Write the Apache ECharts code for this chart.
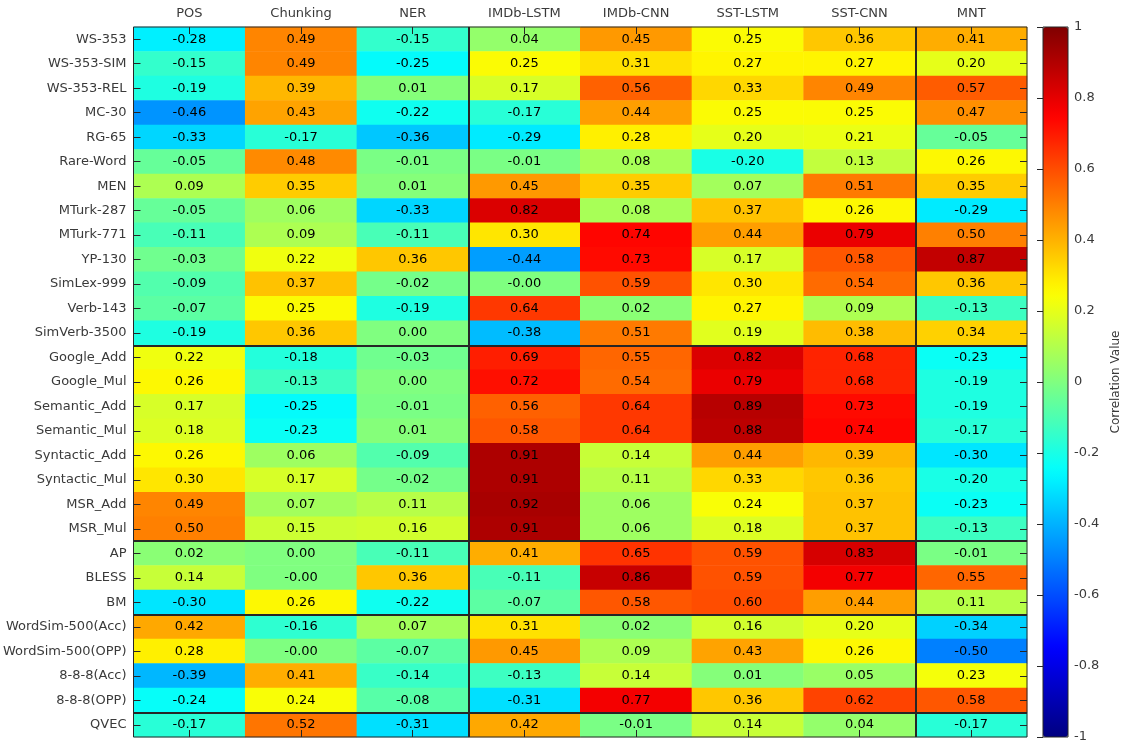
<!DOCTYPE html>
<html>
<head>
<meta charset="utf-8">
<script src="https://cdn.jsdelivr.net/npm/echarts@6/dist/echarts.min.js"></script>
<style>
  html, body { margin: 0; padding: 0; background: #fff; }
  #chart { width: 1123px; height: 749px; }
</style>
</head>
<body>
<div id="chart"></div>
<script>
// tasks (columns) and evaluation sets (rows)
const colLabels = ["POS", "Chunking", "NER", "IMDb-LSTM", "IMDb-CNN", "SST-LSTM", "SST-CNN", "MNT"]
const rowLabels = [
  "WS-353", "WS-353-SIM", "WS-353-REL", "MC-30", "RG-65", "Rare-Word", "MEN",
  "MTurk-287", "MTurk-771", "YP-130", "SimLex-999", "Verb-143", "SimVerb-3500",
  "Google_Add", "Google_Mul", "Semantic_Add", "Semantic_Mul", "Syntactic_Add",
  "Syntactic_Mul", "MSR_Add", "MSR_Mul", "AP", "BLESS", "BM",
  "WordSim-500(Acc)", "WordSim-500(OPP)", "8-8-8(Acc)", "8-8-8(OPP)", "QVEC"
]

// one array per column, in row order (-0.001 prints as "-0.00")
const pos      = [-0.28, -0.15, -0.19, -0.46, -0.33, -0.05, 0.09, -0.05, -0.11, -0.03, -0.09, -0.07, -0.19, 0.22, 0.26, 0.17, 0.18, 0.26, 0.30, 0.49, 0.50, 0.02, 0.14, -0.30, 0.42, 0.28, -0.39, -0.24, -0.17]
const chunking = [0.49, 0.49, 0.39, 0.43, -0.17, 0.48, 0.35, 0.06, 0.09, 0.22, 0.37, 0.25, 0.36, -0.18, -0.13, -0.25, -0.23, 0.06, 0.17, 0.07, 0.15, 0.00, -0.001, 0.26, -0.16, -0.001, 0.41, 0.24, 0.52]
const ner      = [-0.15, -0.25, 0.01, -0.22, -0.36, -0.01, 0.01, -0.33, -0.11, 0.36, -0.02, -0.19, 0.00, -0.03, 0.00, -0.01, 0.01, -0.09, -0.02, 0.11, 0.16, -0.11, 0.36, -0.22, 0.07, -0.07, -0.14, -0.08, -0.31]
const imdbLstm = [0.04, 0.25, 0.17, -0.17, -0.29, -0.01, 0.45, 0.82, 0.30, -0.44, -0.001, 0.64, -0.38, 0.69, 0.72, 0.56, 0.58, 0.91, 0.91, 0.92, 0.91, 0.41, -0.11, -0.07, 0.31, 0.45, -0.13, -0.31, 0.42]
const imdbCnn  = [0.45, 0.31, 0.56, 0.44, 0.28, 0.08, 0.35, 0.08, 0.74, 0.73, 0.59, 0.02, 0.51, 0.55, 0.54, 0.64, 0.64, 0.14, 0.11, 0.06, 0.06, 0.65, 0.86, 0.58, 0.02, 0.09, 0.14, 0.77, -0.01]
const sstLstm  = [0.25, 0.27, 0.33, 0.25, 0.20, -0.20, 0.07, 0.37, 0.44, 0.17, 0.30, 0.27, 0.19, 0.82, 0.79, 0.89, 0.88, 0.44, 0.33, 0.24, 0.18, 0.59, 0.59, 0.60, 0.16, 0.43, 0.01, 0.36, 0.14]
const sstCnn   = [0.36, 0.27, 0.49, 0.25, 0.21, 0.13, 0.51, 0.26, 0.79, 0.58, 0.54, 0.09, 0.38, 0.68, 0.68, 0.73, 0.74, 0.39, 0.36, 0.37, 0.37, 0.83, 0.77, 0.44, 0.20, 0.26, 0.05, 0.62, 0.04]
const mnt      = [0.41, 0.20, 0.57, 0.47, -0.05, 0.26, 0.35, -0.29, 0.50, 0.87, 0.36, -0.13, 0.34, -0.23, -0.19, -0.19, -0.17, -0.30, -0.20, -0.23, -0.13, -0.01, 0.55, 0.11, -0.34, -0.50, 0.23, 0.58, -0.17]

// group separators (after this many columns / rows)
const colBreaks = [3, 7]
const rowBreaks = [13, 21, 24, 28]

const columns = [pos, chunking, ner, imdbLstm, imdbCnn, sstLstm, sstCnn, mnt]
const cells = []
columns.forEach((col, x) => col.forEach((v, y) => cells.push([x, y, v])))

// matlab-ish jet, 64 steps
const jet = (t) => {
  const c = (v) => Math.round(255 * Math.max(0, Math.min(1, v)))
  return `rgb(${c(1.5 - Math.abs(4 * t - 3))},${c(1.5 - Math.abs(4 * t - 2))},${c(1.5 - Math.abs(4 * t - 1))})`
}
const jetColors = []
for (let i = 0; i < 64; i++) jetColors.push(jet(i / 63))

const font = "DejaVu Sans"
const ink = "#262626"
const labelColor = "#3a3a3a"
const fs = 13

const chart = echarts.init(document.getElementById("chart"), null, { renderer: "canvas" })

const tick = { show: true, inside: true, length: 7, alignWithLabel: true, lineStyle: { color: ink } }

chart.setOption({
  animation: false,
  backgroundColor: "#fff",
  textStyle: { fontFamily: font },
  grid: [
    { left: 131, top: 27, width: 896, height: 710, show: true, z: 10,
      borderColor: ink, borderWidth: 1, backgroundColor: "transparent" },
    { left: 1043, top: 27, width: 25, height: 710, show: true, z: 10,
      borderColor: ink, borderWidth: 1, backgroundColor: "transparent" }
  ],
  xAxis: [
    { type: "category", gridIndex: 0, position: "top", data: colLabels, z: 10,
      axisLine: { show: false }, axisTick: tick, splitLine: { show: false },
      axisLabel: { color: labelColor, fontSize: fs, fontFamily: font, margin: 7 } },
    { type: "category", gridIndex: 0, position: "bottom", data: colLabels, z: 10,
      axisLine: { show: false }, axisTick: tick, axisLabel: { show: false } },
    { type: "value", gridIndex: 0, min: 0, max: colLabels.length, show: false },
    { type: "value", gridIndex: 1, min: 0, max: 1, show: false }
  ],
  yAxis: [
    { type: "category", gridIndex: 0, position: "left", inverse: true, data: rowLabels, z: 10,
      axisLine: { show: false }, axisTick: tick, splitLine: { show: false },
      axisLabel: { color: labelColor, fontSize: fs, fontFamily: font, margin: 7 } },
    { type: "category", gridIndex: 0, position: "right", inverse: true, data: rowLabels, z: 10,
      axisLine: { show: false }, axisTick: tick, axisLabel: { show: false } },
    { type: "value", gridIndex: 0, min: 0, max: rowLabels.length, inverse: true, show: false },
    { type: "value", gridIndex: 1, position: "right", min: -1, max: 1, interval: 0.2, z: 10,
      axisLine: { show: false },
      axisTick: { show: true, inside: true, length: 6, lineStyle: { color: ink } },
      splitLine: { show: false },
      axisLabel: { color: labelColor, fontSize: fs, fontFamily: font, margin: 6 },
      name: "Correlation Value", nameLocation: "middle", nameGap: 42,
      nameTextStyle: { color: labelColor, fontSize: 12, fontFamily: font } }
  ],
  visualMap: {
    type: "continuous",
    min: -1,
    max: 1,
    seriesIndex: 0,
    calculable: false,
    hoverLink: false,
    orient: "vertical",
    left: 1043,
    top: 27,
    itemWidth: 25,
    itemHeight: 710,
    padding: 0,
    inRange: { color: jetColors }
  },
  series: [
    {
      type: "heatmap",
      xAxisIndex: 0,
      yAxisIndex: 0,
      data: cells,
      itemStyle: { borderWidth: 0 },
      label: {
        show: true,
        color: "#000",
        fontSize: fs,
        fontFamily: font,
        formatter: (p) => p.value[2].toFixed(2)
      },
      emphasis: { disabled: true }
    },
    {
      // carrier for the group separator lines
      type: "line",
      xAxisIndex: 2,
      yAxisIndex: 2,
      data: [[0, 0]],
      showSymbol: false,
      lineStyle: { width: 0 },
      silent: true,
      z: 8,
      markLine: {
        silent: true,
        symbol: "none",
        label: { show: false },
        lineStyle: { color: ink, width: 2, type: "solid" },
        data: colBreaks.map((v) => ({ xAxis: v })).concat(rowBreaks.map((v) => ({ yAxis: v })))
      }
    }
  ]
})
</script>
</body>
</html>
